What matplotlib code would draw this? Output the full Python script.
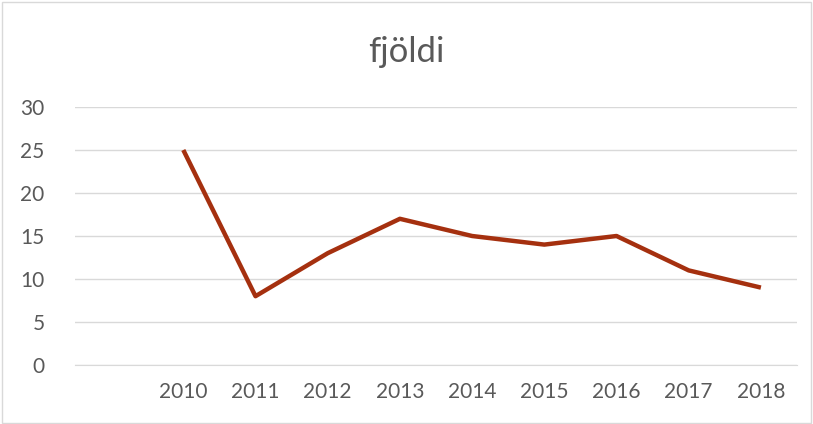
import matplotlib.pyplot as plt
from matplotlib.patches import Rectangle

# Data
categories = ["", "2010", "2011", "2012", "2013", "2014", "2015", "2016", "2017", "2018"]
years = ["2010", "2011", "2012", "2013", "2014", "2015", "2016", "2017", "2018"]
fjoldi = [25, 8, 13, 17, 15, 14, 15, 11, 9]

plt.rcParams['font.family'] = ['Lato', 'DejaVu Sans']
grey = "#595959"

fig = plt.figure(figsize=(8.13, 4.24), dpi=100)
ax = fig.add_axes([75 / 813, 59 / 424, 722 / 813, 258 / 424])

x = [categories.index(y) for y in years]
ax.plot(x, fjoldi, color="#A5300F", linewidth=3.2, solid_capstyle="butt", zorder=3)

ax.set_xlim(-0.5, len(categories) - 0.5)
ax.set_ylim(0, 30)
ax.set_yticks(range(0, 31, 5))
ax.set_xticks(range(len(categories)))
ax.set_xticklabels(categories)
ax.grid(axis="y", color="#D9D9D9", linewidth=1)
ax.set_axisbelow(True)
for s in ["top", "right", "left"]:
    ax.spines[s].set_visible(False)
ax.spines["bottom"].set_color("#D9D9D9")
ax.tick_params(length=0, colors=grey, labelsize=15)
ax.tick_params(axis="x", pad=12)
ax.tick_params(axis="y", pad=22)

fig.text(0.5, 1 - 52 / 424, "fjöldi", ha="center", va="center", fontsize=25, color=grey)

# chart border
fig.patches.append(Rectangle((0.002, 0.003), 0.995, 0.993, transform=fig.transFigure,
                             fill=False, edgecolor="#D9D9D9", linewidth=1))

fig.savefig("out.png", dpi=100)
